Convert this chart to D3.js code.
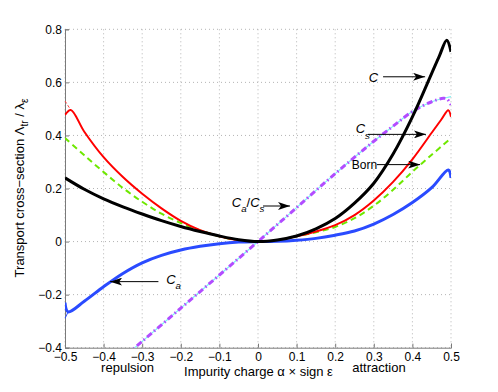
<!DOCTYPE html>
<html><head><meta charset="utf-8">
<script src="https://cdn.jsdelivr.net/npm/d3@7"></script>
<style>
html,body{margin:0;padding:0;background:#fff;}
svg text{font-family:"Liberation Sans",Arial,Helvetica,sans-serif;fill:#000;}
</style></head>
<body>
<svg id="chart" width="498" height="392"></svg>
<script>
// ---- data ----
const xTicks = [-0.5,-0.4,-0.3,-0.2,-0.1,0,0.1,0.2,0.3,0.4,0.5];
const xTickLabels = ["\u22120.5","\u22120.4","\u22120.3","\u22120.2","\u22120.1","0","0.1","0.2","0.3","0.4","0.5"];
const yTicks = [-0.4,-0.2,0,0.2,0.4,0.6,0.8];
const yTickLabels = ["\u22120.4","\u22120.2","0","0.2","0.4","0.6","0.8"];

const cX = [-0.5,-0.45,-0.4,-0.35,-0.3,-0.25,-0.2,-0.15,-0.1,-0.05,0,0.05,0.1,0.15,0.2,0.25,0.3,0.35,0.4,0.45,0.47,0.489,0.5];
const cY = [0.24,0.197,0.161,0.131,0.104,0.079,0.057,0.038,0.021,0.007,0,0.006,0.021,0.048,0.087,0.145,0.22,0.33,0.47,0.634,0.7,0.759,0.715];

const csX = [-0.5,-0.485,-0.45,-0.4,-0.35,-0.3,-0.25,-0.2,-0.15,-0.1,-0.05,0,0.05,0.1,0.15,0.2,0.25,0.3,0.35,0.4,0.45,0.475,0.493,0.5];
const csY = [0.477,0.496,0.414,0.318,0.243,0.18,0.125,0.078,0.043,0.02,0.005,0,0.005,0.02,0.038,0.062,0.1,0.155,0.225,0.31,0.41,0.46,0.495,0.47];
const csTailX = [-0.5,-0.485];
const csTailY = [0.53,0.496];

const bornX = [-0.5,-0.45,-0.4,-0.35,-0.3,-0.25,-0.2,-0.15,-0.1,-0.05,0,0.05,0.1,0.15,0.2,0.25,0.3,0.35,0.4,0.45,0.5];
const bornY = [0.39,0.325,0.262,0.202,0.15,0.105,0.07,0.042,0.02,0.005,0,0.005,0.02,0.035,0.055,0.088,0.135,0.195,0.263,0.327,0.39];

const caX = [-0.5,-0.492,-0.45,-0.4,-0.35,-0.3,-0.25,-0.2,-0.15,-0.1,-0.05,0,0.05,0.1,0.15,0.2,0.25,0.3,0.35,0.4,0.45,0.493,0.5];
const caY = [-0.23,-0.265,-0.225,-0.17,-0.12,-0.08,-0.052,-0.032,-0.018,-0.008,-0.002,0,0.001,0.005,0.012,0.024,0.04,0.066,0.102,0.147,0.203,0.27,0.24];
const caTailX = [-0.5,-0.492];
const caTailY = [-0.29,-0.265];

const ratioX = [-0.34,-0.3,-0.2,-0.1,0,0.1,0.2,0.3,0.35,0.4,0.45,0.48,0.49,0.5];
const ratioY = [-0.426,-0.376,-0.251,-0.126,0,0.128,0.256,0.378,0.435,0.49,0.527,0.54,0.537,0.515];
const ratioRefX = [-0.34,-0.3,-0.2,-0.1,0,0.1,0.2,0.3,0.35,0.4,0.45,0.48,0.49,0.5];
const ratioRefY = [-0.426,-0.376,-0.251,-0.126,0,0.128,0.256,0.378,0.435,0.49,0.527,0.54,0.543,0.546];

// ---- layout ----
const svg = d3.select("#chart");
const L = 65, R = 451, T = 29.3, B = 347.7;
const x = d3.scaleLinear().domain([-0.5,0.5]).range([L,R]);
const y = d3.scaleLinear().domain([-0.4,0.8]).range([B,T]);

svg.append("defs").append("clipPath").attr("id","clip")
  .append("rect").attr("x",L).attr("y",T).attr("width",R-L).attr("height",B-T);
const mk = svg.select("defs").append("marker").attr("id","arr")
  .attr("viewBox","0 0 12 8").attr("refX",12).attr("refY",4)
  .attr("markerWidth",12).attr("markerHeight",8).attr("markerUnits","userSpaceOnUse")
  .attr("orient","auto");
mk.append("path").attr("d","M0,0 L12,4 L0,8 L3,4 Z").attr("fill","#000");

// grid
const grid = svg.append("g");
xTicks.forEach(t => grid.append("line")
  .attr("x1",x(t)).attr("x2",x(t)).attr("y1",T).attr("y2",B)
  .attr("stroke","#b4b4b4").attr("stroke-width",1).attr("stroke-dasharray","1,3"));
yTicks.forEach(t => grid.append("line")
  .attr("y1",y(t)).attr("y2",y(t)).attr("x1",L).attr("x2",R)
  .attr("stroke","#b4b4b4").attr("stroke-width",1).attr("stroke-dasharray","1,3"));

// axes
const xAxis = d3.axisBottom(x).tickValues(xTicks).tickSize(-4).tickPadding(5)
  .tickFormat((d,i)=>xTickLabels[i]);
const yAxis = d3.axisLeft(y).tickValues(yTicks).tickSize(-4).tickPadding(3)
  .tickFormat((d,i)=>yTickLabels[i]);
const gx = svg.append("g").attr("transform",`translate(0,${B})`).call(xAxis);
const gy = svg.append("g").attr("transform",`translate(${L},0)`).call(yAxis);
[gx,gy].forEach(g=>{
  g.select(".domain").attr("stroke","#7a7a7a");
  g.selectAll(".tick line").attr("stroke","#7a7a7a");
  g.selectAll(".tick text").attr("font-size",12).attr("fill","#000")
   .attr("font-family",'"Liberation Sans",Arial,sans-serif');
});

// lines
const plot = svg.append("g").attr("clip-path","url(#clip)");
function path(xs, ys, curve){
  return d3.line().x((d,i)=>x(xs[i])).y((d,i)=>y(ys[i])).curve(curve||d3.curveCatmullRom.alpha(0.5))(xs);
}
plot.append("path").attr("d",path(ratioRefX,ratioRefY)).attr("fill","none")
  .attr("stroke","#7ff2f2").attr("stroke-width",1.2);
plot.append("path").attr("d",path(ratioX,ratioY)).attr("fill","none")
  .attr("stroke","#b24cff").attr("stroke-width",3).attr("stroke-dasharray","6,3,1.5,3");
plot.append("path").attr("d",path(bornX,bornY)).attr("fill","none")
  .attr("stroke","#6ee800").attr("stroke-width",2).attr("stroke-dasharray","6,4");
plot.append("path").attr("d",path(csTailX,csTailY,d3.curveLinear)).attr("fill","none")
  .attr("stroke","#ff4040").attr("stroke-width",1).attr("stroke-dasharray","3,2");
plot.append("path").attr("d",path(csX,csY)).attr("fill","none")
  .attr("stroke","#ff0000").attr("stroke-width",2);
plot.append("path").attr("d",path(caTailX,caTailY,d3.curveLinear)).attr("fill","none")
  .attr("stroke","#2a4bff").attr("stroke-width",1);
plot.append("path").attr("d",path(caX,caY)).attr("fill","none")
  .attr("stroke","#2a4bff").attr("stroke-width",3);
plot.append("path").attr("d",path(cX,cY)).attr("fill","none")
  .attr("stroke","#000").attr("stroke-width",3);

// annotations (arrows in data units)
function arrow(x1,x2,yy){
  svg.append("line").attr("x1",x(x1)).attr("x2",x(x2)).attr("y1",y(yy)).attr("y2",y(yy))
    .attr("stroke","#000").attr("stroke-width",1).attr("marker-end","url(#arr)");
}
arrow(0.324,0.433,0.621);
arrow(0.285,0.435,0.404);
arrow(0.308,0.42,0.29);
arrow(0.013,0.083,0.134);
arrow(-0.258,-0.383,-0.151);

function lab(px,py,parts,size){
  const t = svg.append("text").attr("x",px).attr("y",py).attr("font-size",size||13);
  let off = 0;
  parts.forEach(p=>{
    const s = t.append("tspan").text(p.t);
    if(p.i) s.attr("font-style","italic");
    if(p.sub){ s.attr("font-size",(size||13)*0.75).attr("dy",p.sub); off += p.sub; }
    else if(off){ s.attr("dy",-off); off = 0; }
  });
  return t;
}
lab(x(0.287),y(0.621)+5,[{t:"C",i:1}]);
lab(x(0.253),y(0.404)-1.5,[{t:"C",i:1},{t:"s",i:1,sub:6}]);
lab(x(0.243),y(0.29)+4.5,[{t:"Born"}],12);
lab(x(-0.068),y(0.134)+1,[{t:"C",i:1},{t:"a",i:1,sub:5},{t:"/"},{t:"C",i:1},{t:"s",i:1,sub:5}]);
lab(x(-0.238),y(-0.151)+2,[{t:"C",i:1},{t:"a",i:1,sub:5}]);

// axis captions
svg.append("text").attr("x",127.5).attr("y",372).attr("text-anchor","middle")
  .attr("font-size",13).text("repulsion");
svg.append("text").attr("x",379).attr("y",372).attr("text-anchor","middle")
  .attr("font-size",13).text("attraction");
svg.append("text").attr("x",258.5).attr("y",375.5).attr("text-anchor","middle")
  .attr("font-size",13).text("Impurity charge \u03b1 \u00d7 sign \u03b5");

const yl = svg.append("text").attr("transform","translate(24,188) rotate(-90)")
  .attr("text-anchor","middle").attr("font-size",13);
yl.append("tspan").text("Transport cross\u2212section  \u039b");
yl.append("tspan").text("tr").attr("font-size",10).attr("dy",4);
yl.append("tspan").text(" / \u03bb").attr("dy",-4);
yl.append("tspan").text("\u03b5").attr("font-size",10).attr("dy",4);
</script>
</body></html>
